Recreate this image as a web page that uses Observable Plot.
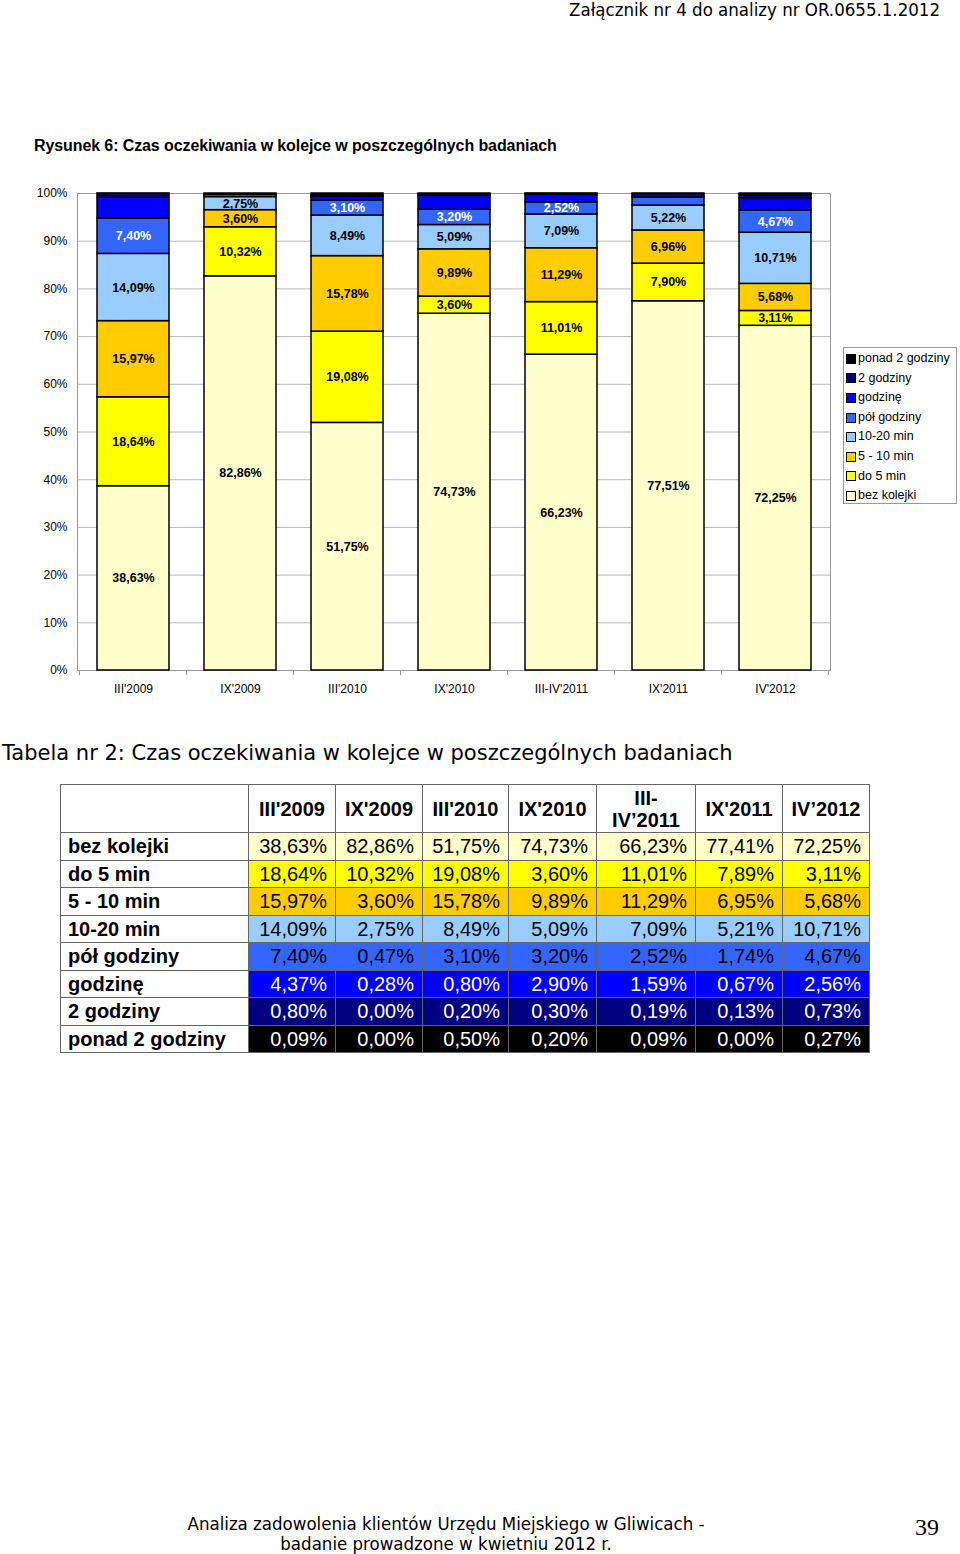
<!DOCTYPE html>
<html><head><meta charset="utf-8">
<script src="https://cdn.jsdelivr.net/npm/d3@7"></script>
<script src="https://cdn.jsdelivr.net/npm/@observablehq/plot@0.6"></script>
<style>
body{margin:0;background:#fff;}
#page{position:relative;width:960px;height:1554px;overflow:hidden;font-family:"Liberation Sans",Arial,sans-serif;color:#000;}
.abs{position:absolute;white-space:nowrap;}
#hdr{right:20px;top:-1px;font-family:"DejaVu Sans Condensed","DejaVu Sans",sans-serif;font-stretch:condensed;font-size:18.5px;line-height:22px;}
#ttl{left:34px;top:137px;font-size:16px;font-weight:bold;letter-spacing:-0.1px;}
#chart{left:0;top:180px;}
#legend{left:843px;top:347px;width:114px;height:157px;border:1px solid #9a9a9a;font-size:12.5px;box-sizing:border-box;padding-top:1px;}
#legend .it{height:19.6px;line-height:19.6px;padding-left:2px;display:flex;align-items:center;}
#legend .sw{width:8px;height:8px;border:1px solid #000;margin-right:2px;}
#ttl2{left:2px;top:741px;font-family:"DejaVu Sans",Verdana,sans-serif;font-size:21px;}
#tbl{position:absolute;left:60px;top:784px;border-collapse:collapse;font-size:20px;table-layout:fixed;}
#tbl td,#tbl th{border:1px solid #666;padding:0;}
#tbl th{height:47px;font-weight:bold;text-align:center;line-height:22px;}
#tbl td{height:26.5px;line-height:26px;}
#tbl td.lab{font-weight:bold;text-align:left;padding-left:7px;}
#tbl td.val{text-align:right;padding-right:8px;}
#ft{left:0;width:892px;top:1514px;text-align:center;font-family:"DejaVu Sans Condensed","DejaVu Sans",sans-serif;font-stretch:condensed;font-size:18.5px;line-height:19.5px;}
#pg{left:915px;top:1514px;font-family:"Liberation Serif","Times New Roman",serif;font-size:24px;}
</style></head><body><div id="page">
<div class="abs" id="hdr">Załącznik nr 4 do analizy nr OR.0655.1.2012</div>
<div class="abs" id="ttl">Rysunek 6: Czas oczekiwania w kolejce w poszczególnych badaniach</div>
<div class="abs" id="chart"></div>
<div class="abs" id="legend"></div>
<div class="abs" id="ttl2">Tabela nr 2: Czas oczekiwania w kolejce w poszczególnych badaniach</div>
<table id="tbl"></table>
<div class="abs" id="ft">Analiza zadowolenia klientów Urzędu Miejskiego w Gliwicach -<br>badanie prowadzone w kwietniu 2012 r.</div>
<div class="abs" id="pg">39</div>
</div>
<script>
// ---- data ----
const categories = ["III'2009","IX'2009","III'2010","IX'2010","III-IV'2011","IX'2011","IV'2012"];
const tableHeaders = ["III'2009","IX'2009","III'2010","IX'2010","III-\nIV’2011","IX'2011","IV’2012"];
const seriesNames = ["bez kolejki","do 5 min","5 - 10 min","10-20 min","pół godziny","godzinę","2 godziny","ponad 2 godziny"];
const seriesColors = ["#FFFFCC","#FFFF00","#FFCC00","#99CCFF","#3366FF","#0000FF","#000080","#000000"];

// chart values (as labelled in the chart)
const bezKolejki   = [38.63, 82.86, 51.75, 74.73, 66.23, 77.51, 72.25];
const do5min       = [18.64, 10.32, 19.08, 3.60, 11.01, 7.90, 3.11];
const min5to10     = [15.97, 3.60, 15.78, 9.89, 11.29, 6.96, 5.68];
const min10to20    = [14.09, 2.75, 8.49, 5.09, 7.09, 5.22, 10.71];
const polGodziny   = [7.40, 0.47, 3.10, 3.20, 2.52, 1.74, 4.67];
const godzine      = [4.37, 0.28, 0.80, 2.90, 1.59, 0.67, 2.56];
const dwieGodziny  = [0.80, 0.00, 0.20, 0.30, 0.19, 0.13, 0.73];
const ponad2       = [0.09, 0.00, 0.50, 0.20, 0.09, 0.00, 0.27];
const chartSeries = [bezKolejki, do5min, min5to10, min10to20, polGodziny, godzine, dwieGodziny, ponad2];

// table values
const tBezKolejki  = [38.63, 82.86, 51.75, 74.73, 66.23, 77.41, 72.25];
const tDo5min      = [18.64, 10.32, 19.08, 3.60, 11.01, 7.89, 3.11];
const tMin5to10    = [15.97, 3.60, 15.78, 9.89, 11.29, 6.95, 5.68];
const tMin10to20   = [14.09, 2.75, 8.49, 5.09, 7.09, 5.21, 10.71];
const tPolGodziny  = [7.40, 0.47, 3.10, 3.20, 2.52, 1.74, 4.67];
const tGodzine     = [4.37, 0.28, 0.80, 2.90, 1.59, 0.67, 2.56];
const tDwieGodziny = [0.80, 0.00, 0.20, 0.30, 0.19, 0.13, 0.73];
const tPonad2      = [0.09, 0.00, 0.50, 0.20, 0.09, 0.00, 0.27];
const tableSeries = [tBezKolejki, tDo5min, tMin5to10, tMin10to20, tPolGodziny, tGodzine, tDwieGodziny, tPonad2];
const yTicks = [0,0.1,0.2,0.3,0.4,0.5,0.6,0.7,0.8,0.9,1];

const fmt = v => v.toFixed(2).replace(".", ",") + "%";

const data = categories.flatMap((c, i) => chartSeries.map((arr, j) => ({category: c, series: seriesNames[j], idx: j, value: arr[i]})));
const shown = d => d.idx < 5 && d.value >= 2;

const chart = Plot.plot({
  width: 960, height: 530,
  marginLeft: 77, marginRight: 130, marginTop: 13, marginBottom: 40,
  style: {fontFamily: "'Liberation Sans', Arial, sans-serif", fontSize: "12px", color: "#000", background: "transparent"},
  x: {domain: categories, paddingInner: 0.33, paddingOuter: 0.165, label: null},
  y: {domain: [0, 1], label: null},
  color: {domain: seriesNames, range: seriesColors},
  marks: [
    Plot.gridY(yTicks, {stroke: "#b8b8b8", strokeOpacity: 1}),
    Plot.frame({stroke: "#9a9a9a"}),
    Plot.barY(data, Plot.stackY({offset: "normalize"}, {x: "category", y: "value", fill: "series", stroke: "#000", strokeWidth: 1.5})),
    Plot.text(data, Plot.stackY({offset: "normalize"}, {x: "category", y: "value",
      text: d => (shown(d) && d.series !== "pół godziny") ? fmt(d.value) : "", fill: "#000", fontWeight: "bold", fontSize: 12.5})),
    Plot.text(data, Plot.stackY({offset: "normalize"}, {x: "category", y: "value",
      text: d => (shown(d) && d.series === "pół godziny") ? fmt(d.value) : "", fill: "#fff", fontWeight: "bold", fontSize: 12.5})),
    Plot.axisY(yTicks, {tickFormat: d => Math.round(d * 100) + "%", tickSize: 0, tickPadding: 10, fontSize: 12}),
    Plot.axisX({tickSize: 0, tickPadding: 14, fontSize: 12})
  ]
});
document.getElementById("chart").appendChild(chart);

// category boundary ticks on the x axis
const xs = chart.scale("x");
const ys = chart.scale("y");
const gap = (xs.step - xs.bandwidth) / 2;
const bounds = categories.map(c => xs.apply(c) - gap).concat([xs.apply(categories[categories.length - 1]) + xs.bandwidth + gap]);
const y0 = ys.apply(0);
d3.select(chart).append("g").selectAll("line").data(bounds).join("line")
  .attr("x1", d => d).attr("x2", d => d).attr("y1", y0).attr("y2", y0 + 5)
  .attr("stroke", "#9a9a9a");

// legend
const leg = d3.select("#legend");
seriesNames.slice().reverse().forEach((s) => {
  const it = leg.append("div").attr("class", "it");
  it.append("div").attr("class", "sw").style("background", seriesColors[seriesNames.indexOf(s)]);
  it.append("span").text(s);
});

// table
const tbl = d3.select("#tbl");
const widths = [188, 87, 87, 86, 88, 99, 87, 87];
const cg = tbl.append("colgroup");
widths.forEach(w => cg.append("col").style("width", w + "px"));
const hr = tbl.append("tr");
hr.append("th").text("");
tableHeaders.forEach(h => hr.append("th").html(h.replace("\n", "<br>")));
const textColors = ["#000","#000","#000","#000","#000","#fff","#fff","#fff"];
tableSeries.forEach((arr, j) => {
  const tr = tbl.append("tr");
  tr.append("td").attr("class", "lab").text(seriesNames[j]);
  arr.forEach(v => tr.append("td").attr("class", "val")
    .style("background", seriesColors[j]).style("color", textColors[j]).text(fmt(v)));
});
</script>
</body></html>
